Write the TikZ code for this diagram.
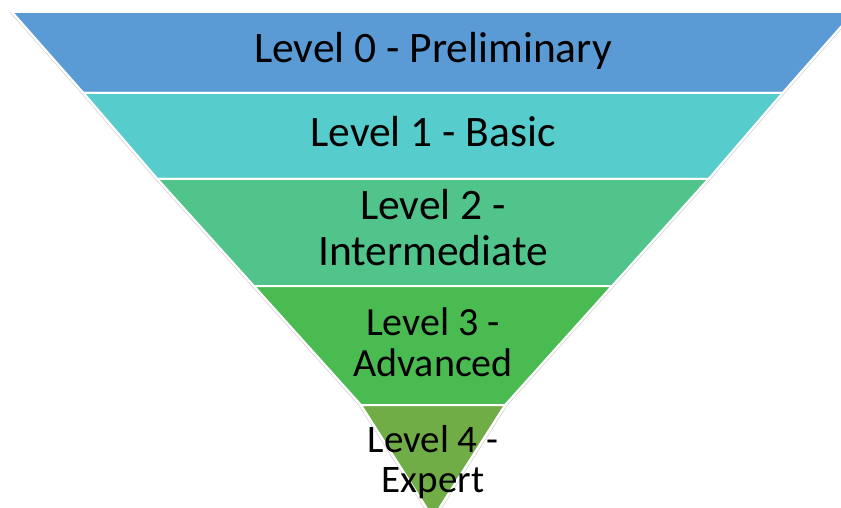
\documentclass[tikz,border=0pt]{standalone}
\usepackage{fontspec}
\setmainfont{Carlito}
\definecolor{cA}{RGB}{91,155,213}
\definecolor{cB}{RGB}{86,204,204}
\definecolor{cC}{RGB}{81,196,140}
\definecolor{cD}{RGB}{74,187,80}
\definecolor{cE}{RGB}{112,173,71}
\tikzset{
  band/.style={fill=#1, draw=white, line width=2pt, line join=miter},
  lbl/.style={anchor=base, inner sep=0pt, text=black},
  rim/.style={draw=black!20, line width=0.5pt, line join=round}
}
\begin{document}
\begin{tikzpicture}[x=1pt,y=-1pt]
\useasboundingbox (0,0) rectangle (841,508);
\clip (0,0) rectangle (841,508);
% outer faint rim
\draw[rim] (9.8,12) -- (81.3,93) -- (155.3,179) -- (251.8,286) -- (358.6,405) -- (432,520);
\draw[rim] (856.2,12) -- (784.7,93) -- (710.7,179) -- (614.2,286) -- (507.4,405) -- (434,520);
% bands
\draw[band=cA] (12,12) -- (854,12) -- (782.5,93) -- (83.5,93) -- cycle;
\draw[band=cB] (83.5,93) -- (782.5,93) -- (708.5,179) -- (157.5,179) -- cycle;
\draw[band=cC] (157.5,179) -- (708.5,179) -- (612,286) -- (254,286) -- cycle;
\draw[band=cD] (254,286) -- (612,286) -- (505,405) -- (361,405) -- cycle;
\draw[band=cE] (361,405) -- (505,405) -- (433,518) -- cycle;
% labels
\node[lbl, font=\fontsize{43.5}{46}\selectfont] (l0) at (433,63) {Level 0 - Preliminary};
\node[lbl, font=\fontsize{43.5}{46}\selectfont] (l1) at (433,147) {Level 1 - Basic};
\node[lbl, font=\fontsize{43.5}{46}\selectfont] (l2a) at (433,219) {Level 2 -};
\node[lbl, font=\fontsize{43.5}{46}\selectfont] (l2b) at (433,265) {Intermediate};
\node[lbl, font=\fontsize{40}{42}\selectfont] (l3a) at (433,335) {Level 3 -};
\node[lbl, font=\fontsize{40}{42}\selectfont] (l3b) at (433,376) {Advanced};
\node[lbl, font=\fontsize{39}{41}\selectfont] (l4a) at (433,452) {Level 4 -};
\node[lbl, font=\fontsize{39}{41}\selectfont] (l4b) at (433,492) {Expert};
\end{tikzpicture}
\end{document}
